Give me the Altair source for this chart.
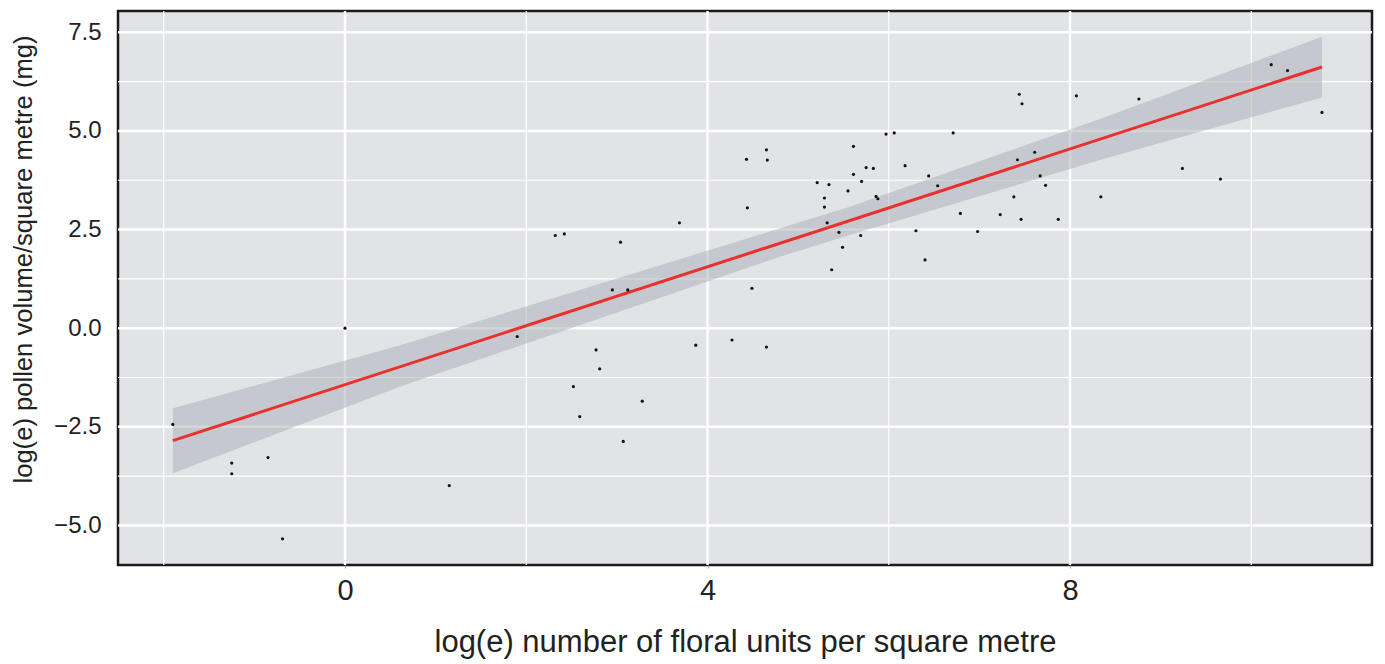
import pandas as pd
import altair as alt

# log(e) floral units per square metre
x_vals = [-1.90, -1.25, -1.25, -0.85, -0.69, 0.00, 1.15, 1.90, 2.32, 2.42,
          2.52, 2.59, 2.77, 2.81, 2.95, 3.04, 3.07, 3.12, 3.28, 3.69,
          3.87, 4.27, 4.43, 4.44, 4.49, 4.65, 4.66, 4.65, 5.21, 5.29,
          5.29, 5.32, 5.34, 5.37, 5.45, 5.49, 5.55, 5.61, 5.61, 5.69,
          5.70, 5.75, 5.83, 5.86, 5.88, 5.97, 6.06, 6.18, 6.30, 6.40,
          6.44, 6.54, 6.71, 6.79, 6.98, 7.23, 7.38, 7.42, 7.44, 7.47,
          7.46, 7.61, 7.67, 7.73, 7.87, 8.07, 8.34, 8.76, 9.24, 9.66,
          10.22, 10.40, 10.78]
# log(e) pollen volume per square metre (mg)
y_vals = [-2.44, -3.42, -3.69, -3.28, -5.34, 0.00, -3.99, -0.21, 2.35, 2.39,
          -1.48, -2.24, -0.55, -1.03, 0.97, 2.18, -2.87, 0.97, -1.85, 2.67,
          -0.43, -0.30, 4.28, 3.05, 1.01, 4.52, 4.26, -0.48, 3.69, 3.30,
          3.07, 2.67, 3.64, 1.48, 2.43, 2.05, 3.48, 3.90, 4.61, 2.35,
          3.72, 4.07, 4.05, 3.34, 3.28, 4.92, 4.95, 4.12, 2.47, 1.73,
          3.86, 3.61, 4.95, 2.91, 2.45, 2.88, 3.33, 4.27, 5.93, 5.69,
          2.76, 4.46, 3.86, 3.62, 2.76, 5.89, 3.33, 5.81, 4.05, 3.78,
          6.68, 6.53, 5.47]

# fitted regression line (end points)
fit_x = [-1.90, 10.78]
fit_y = [-2.85, 6.62]

# confidence band edges
band_x = [-1.90, 0.61, 4.80, 5.57, 8.33, 10.78]
band_lo = [-3.68, -1.48, 1.81, 2.36, 4.26, 5.85]
band_hi = [-2.03, -0.43, 2.53, 3.08, 5.30, 7.39]

x_ticks = [0, 4, 8]
y_ticks = [-5.0, -2.5, 0.0, 2.5, 5.0, 7.5]
x_minor = [-2, 2, 6, 10]
y_minor = [-3.75, -1.25, 1.25, 3.75, 6.25]

pts = pd.DataFrame({"x": x_vals, "y": y_vals})
fitdf = pd.DataFrame({"x": fit_x, "y": fit_y})
banddf = pd.DataFrame({"x": band_x, "lo": band_lo, "hi": band_hi})

FONT = "Liberation Sans"
xscale = alt.Scale(domain=[-2.505, 11.332], nice=False, zero=False)
yscale = alt.Scale(domain=[-6.003, 8.04], nice=False, zero=False)

XAXIS = alt.Axis(values=x_ticks, title="log(e) number of floral units per square metre",
                 grid=False, domain=False, ticks=True, tickSize=3, tickColor="#aaaaaa",
                 labelFontSize=29, titleFontSize=31, labelPadding=8, titlePadding=22,
                 labelColor="#222222", titleColor="#222222", titleFontWeight="normal",
                 labelFont=FONT, titleFont=FONT)
YAXIS = alt.Axis(values=y_ticks, format=".1f", title="log(e) pollen volume/square metre (mg)",
                 grid=False, domain=False, ticks=False,
                 labelFontSize=24, titleFontSize=25.6, labelPadding=17, titlePadding=17,
                 titleY=248, titleAlign="center",
                 labelColor="#222222", titleColor="#222222", titleFontWeight="normal",
                 labelFont=FONT, titleFont=FONT)

def vrules(vals, width):
    return alt.Chart(pd.DataFrame({"v": vals})).mark_rule(color="white", strokeWidth=width).encode(
        x=alt.X("v:Q", scale=xscale, axis=XAXIS))

def hrules(vals, width):
    return alt.Chart(pd.DataFrame({"v": vals})).mark_rule(color="white", strokeWidth=width).encode(
        y=alt.Y("v:Q", scale=yscale, axis=YAXIS))

band = alt.Chart(banddf).mark_area(color="#AEB3BE", opacity=0.55).encode(
    x=alt.X("x:Q", scale=xscale, axis=XAXIS),
    y=alt.Y("lo:Q", scale=yscale, axis=YAXIS),
    y2="hi:Q")

line = alt.Chart(fitdf).mark_line(color="#E8312D", strokeWidth=3).encode(
    x=alt.X("x:Q", scale=xscale, axis=XAXIS),
    y=alt.Y("y:Q", scale=yscale, axis=YAXIS))

points = alt.Chart(pts).mark_circle(size=10, color="#111111", opacity=1).encode(
    x=alt.X("x:Q", scale=xscale, axis=XAXIS),
    y=alt.Y("y:Q", scale=yscale, axis=YAXIS))

chart = alt.layer(
    vrules(x_minor, 1.2), hrules(y_minor, 1.2),
    vrules(x_ticks, 2.5), hrules(y_ticks, 2.5),
    band, line, points
).properties(
    width=1254, height=554,
    padding={"left": 110, "top": 3, "right": 5, "bottom": 95},
    autosize=alt.AutoSizeParams(type="none"),
    background="white",
).configure_view(
    fill="#E2E3E7", stroke="#1a1a1a", strokeWidth=2.5
)

chart.save("out.html", embed_options={"renderer": "svg", "actions": False})
